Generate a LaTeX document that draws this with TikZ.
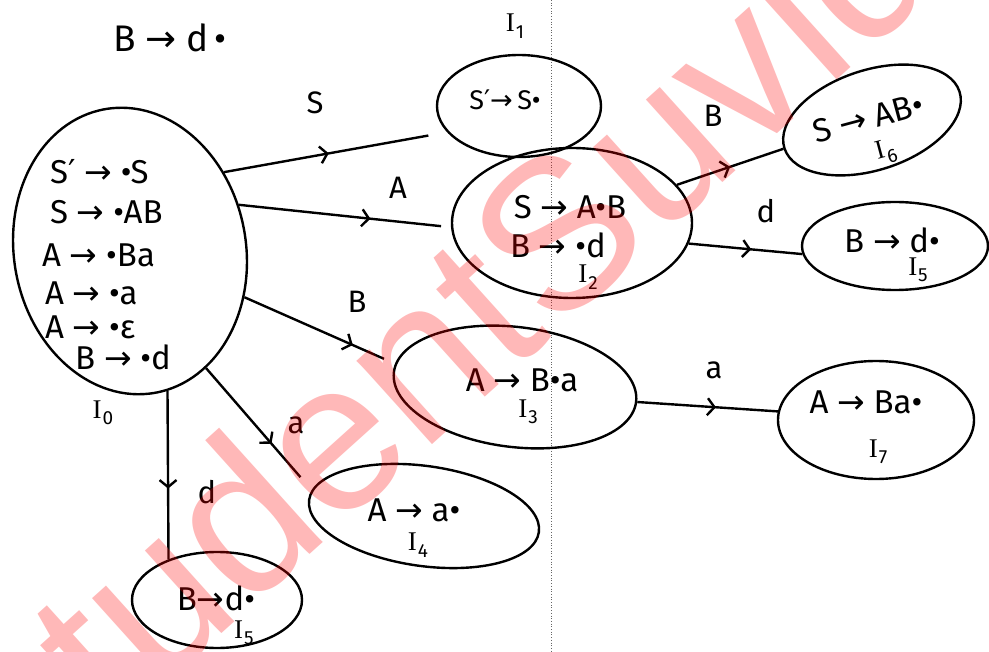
\documentclass[tikz,border=0pt]{standalone}
\usepackage{fontspec}
\setmainfont{Fira Sans}
\newfontfamily\wmfont{Liberation Sans}
\newfontfamily\arfont{DejaVu Sans}
\newfontfamily\serfont{Liberation Serif}
\usetikzlibrary{shapes.geometric,arrows.meta,decorations.markings}
\newcommand{\rar}{{\arfont →}}
\newcommand{\prm}{{\arfont ′}}
\newcommand{\Ilab}[1]{{\serfont I}\kern1pt\raisebox{-0.45ex}{\fontsize{19}{19}\selectfont #1}}
\begin{document}
\begin{tikzpicture}[x=1pt,y=-1pt,
  state/.style={draw, ellipse, line width=2.4pt, inner sep=0pt},
  itm/.style={font=\fontsize{33}{35}\selectfont, inner sep=0pt},
  mitm/.style={font=\fontsize{27}{29}\selectfont, inner sep=0pt},
  sitm/.style={font=\fontsize{27}{29}\selectfont, inner sep=0pt},
  lbl/.style={font=\fontsize{31}{33}\selectfont, inner sep=0pt},
  tr/.style={line width=2.4pt, postaction={decorate},
    decoration={markings, mark=at position #1 with {\arrow{Straight Barb[length=7pt,width=17pt,line width=2.4pt]}}}},
]
\useasboundingbox (0,0) rectangle (989,652);
\fill[white] (0,0) rectangle (989,652);
% fold line
\draw[dotted, black!60, line width=0.7pt] (551,0) -- (551,652);

% states
\node[state, minimum width=232pt, minimum height=288pt, rotate=10] (I0) at (130,251) {};
\node[state, minimum width=164pt, minimum height=102pt] (I1) at (519,106) {};
\node[state, minimum width=240pt, minimum height=150pt] (I2) at (572,223) {};
\node[state, minimum width=184pt, minimum height=100pt, rotate=18] (I6) at (872,120) {};
\node[state, minimum width=186pt, minimum height=88pt] (I5r) at (895,246) {};
\node[state, minimum width=244pt, minimum height=120pt, rotate=-7] (I3) at (515,387) {};
\node[state, minimum width=196pt, minimum height=118pt] (I7) at (876,420) {};
\node[state, minimum width=232pt, minimum height=100pt, rotate=-8] (I4) at (424,516) {};
\node[state, minimum width=170pt, minimum height=96pt] (I5) at (217,600) {};

% top text
\node[itm, font=\fontsize{37}{39}\selectfont] (top) at (170,38) {B \rar\ d\,•};
\node[sitm] (n1) at (515,26) {\Ilab{1}};

% I0 items
\node[itm, anchor=west] (a1) at (50,172) {S\prm\ \rar\ •S};
\node[itm, anchor=west] (a2) at (50,212) {S \rar\ •AB};
\node[itm, anchor=west] (a3) at (42,255) {A \rar\ •Ba};
\node[itm, anchor=west] (a4) at (45,293) {A \rar\ •a};
\node[itm, anchor=west] (a5) at (45,327) {A \rar\ •ε};
\node[itm, anchor=west] (a6) at (75,357) {B \rar\ •d};
\node[sitm] (n0) at (103,413) {\Ilab{0}};

% I1
\node[mitm] (b1) at (505,100) {S\prm\rar\,S•};
% I2
\node[itm] (c1) at (570,207) {S \rar\ A•B};
\node[itm] (c2) at (558,245) {B \rar\ •d};
\node[sitm] (n2) at (588,277) {\Ilab{2}};
% I6
\node[itm, rotate=15] (d1) at (868,118) {S \rar\ AB•};
\node[sitm, rotate=15] (n6) at (886,152) {\Ilab{6}};
% I5 right
\node[itm] (e1) at (892,240) {B \rar\ d•};
\node[sitm] (n5r) at (918,270) {\Ilab{5}};
% I3
\node[itm] (f1) at (522,380) {A \rar\ B•a};
\node[sitm] (n3) at (528,412) {\Ilab{3}};
% I7
\node[itm] (g1) at (866,402) {A \rar\ Ba•};
\node[sitm] (n7) at (878,452) {\Ilab{7}};
% I4
\node[itm] (h1) at (414,510) {A \rar\ a•};
\node[sitm] (n4) at (418,545) {\Ilab{4}};
% I5 bottom
\node[itm] (k1) at (216,598) {B\rar d•};
\node[sitm] (n5) at (244,633) {\Ilab{5}};

% transitions
\draw[tr=0.47, shorten >=19pt] (I0.30) -- (I1.200);
\draw[tr=0.62, shorten >=10pt] (I0.13) -- (I2.182);
\draw[tr=0.72, shorten >=12pt] (I0.328) -- (I3.176);
\draw[tr=0.62, shorten >=17pt] (I0.293) -- (I4.175);
\draw[tr=0.58] (I0.275) -- (I5.140);
\draw[tr=0.5] (I2.20) -- (I6.180);
\draw[tr=0.55] (I2.350) -- (I5r.185);
\draw[tr=0.56] (I3.0) -- (I7.175);

% transition labels
\node[lbl] (lS) at (315,103) {S};
\node[lbl] (lA) at (398,188) {A};
\node[lbl] (lB) at (357,302) {B};
\node[lbl] (la) at (296,425) {a};
\node[lbl] (ld) at (207,492) {d};
\node[lbl] (lB2) at (713,116) {B};
\node[lbl] (ld2) at (766,211) {d};
\node[lbl] (la2) at (714,370) {a};

% watermark
\begin{scope}
\clip (0,0) rectangle (989,652);
\node[text=red, text opacity=0.28, rotate=42, anchor=base west, inner sep=0pt,
  font=\wmfont\fontsize{213}{213}\selectfont] (wm) at (34,803) {studentSuvidha};
\end{scope}
\end{tikzpicture}
\end{document}
